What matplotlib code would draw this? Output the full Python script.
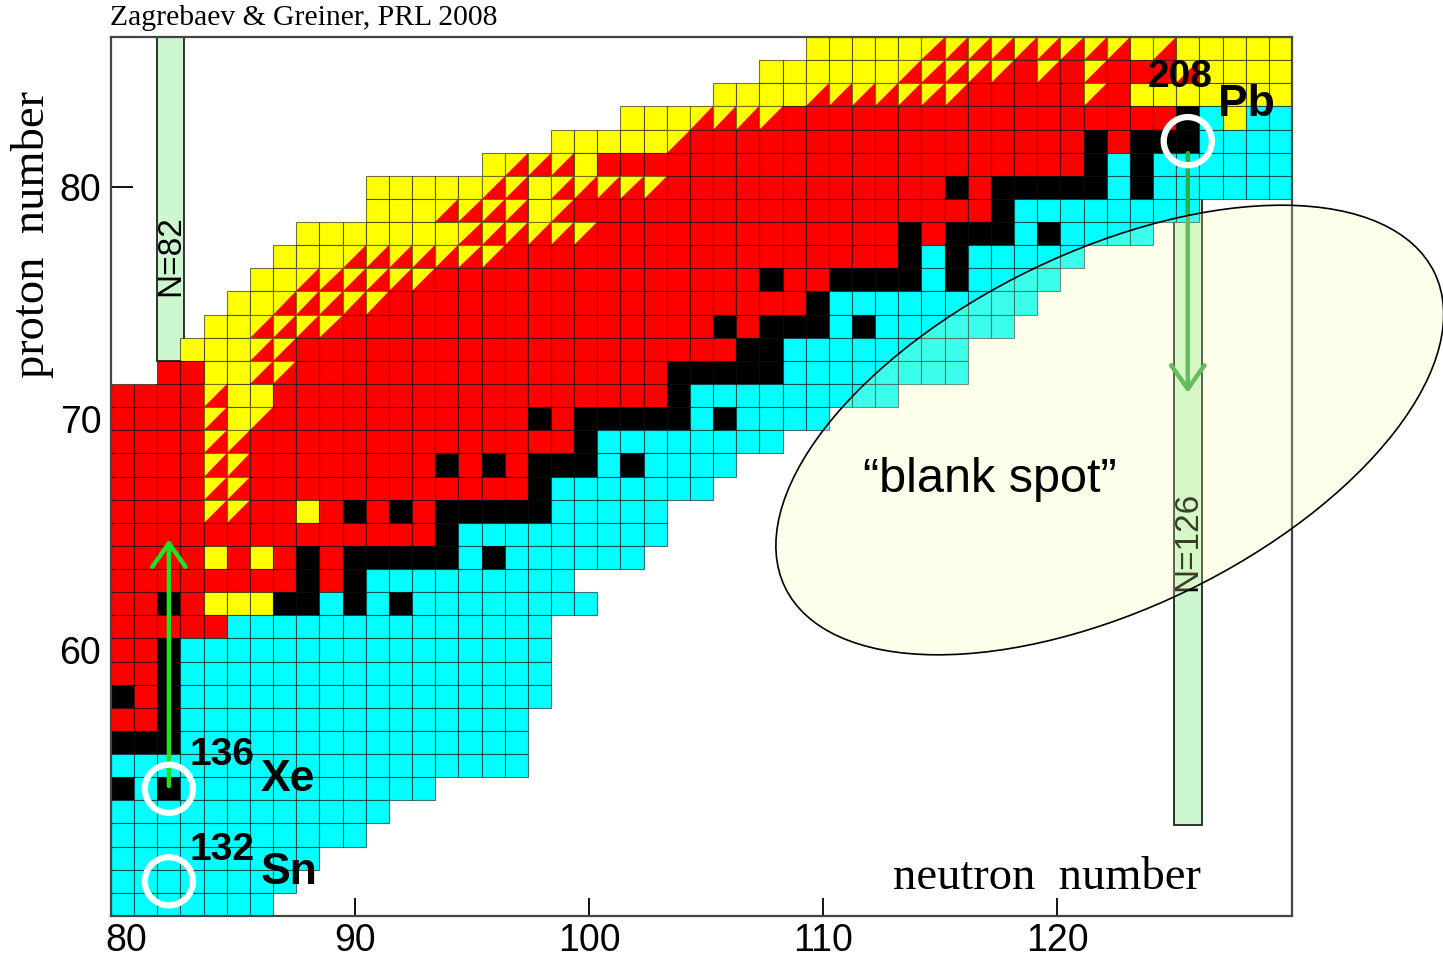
import matplotlib
matplotlib.use("Agg")
import matplotlib.pyplot as plt
from matplotlib.patches import Rectangle, Polygon, Ellipse, Circle

# one string per proton row, one letter per neutron number starting at first_neutron
# c = beta-minus, r = beta-plus / EC, y = alpha, t = alpha + beta-plus, k = stable
proton_numbers = [86, 85, 84, 83, 82, 81, 80, 79, 78, 77, 76, 75, 74, 73, 72, 71, 70, 69,
                  68, 67, 66, 65, 64, 63, 62, 61, 60, 59, 58, 57, 56, 55, 54, 53, 52, 51, 50, 49]
first_neutron = [110, 108, 106, 102, 99, 96, 91, 91, 88, 87, 86, 85, 84, 83, 82, 80, 80, 80,
                 80, 80, 80, 80, 80, 80, 80, 80, 80, 80, 80, 80, 80, 80, 80, 80, 80, 80, 80, 80]
cell_codes = [
    "yyyyy" "ttttttttt" "y" "t" "yyyyy",
    "yyyyyy" "ttttt" "r" "t" "r" "t" "rrr" "t" "yyyy",
    "yyyy" "ttttttt" "rrrrr" "t" "r" "yyyyyyy",
    "yyy" "tttt" "rrrrrrrrrrrrrrrrr" "k" "c" "y" "cc",
    "yyyyy" "t" "rrrrrrrrrrrrrrrrr" "k" "r" "kkk" "cccc",
    "y" "ttt" "y" "rrrrrrrrrrrrrrrrrrrrr" "k" "c" "k" "cccccc",
    "yyyyy" "tt" "y" "t" "t" "ttt" "rrrrrrrrrrrr" "k" "r" "kkkkk" "c" "k" "cccccc",
    "yyy" "tttt" "y" "t" "rrrrrrrrrrrrrrrrrr" "k" "cccccccc",
    "yyyyyyy" "tttttt" "rrrrrrrrrrrrr" "k" "r" "kkk" "c" "k" "cccc",
    "yyy" "ttttttt" "rrrrrrrrrrrrrrrrr" "k" "c" "k" "ccccc",
    "yy" "tttttt" "rrrrrrrrrrrrrr" "k" "rr" "kkkk" "c" "k" "cccc",
    "yy" "ttttt" "rrrrrrrrrrrrrrrrrr" "k" "ccccccccc",
    "yy" "tttt" "rrrrrrrrrrrrrrrr" "k" "r" "kkk" "c" "k" "cccccc",
    "yyy" "tt" "rrrrrrrrrrrrrrrrrrr" "kk" "cccccccc",
    "rr" "yy" "tt" "rrrrrrrrrrrrrrrr" "kkkkk" "cccccccc",
    "rrrr" "t" "yy" "rrrrrrrrrrrrrrrrr" "k" "ccccccccc",
    "rrrr" "t" "y" "t" "rrrrrrrrrrr" "k" "r" "kkkkk" "c" "k" "cccc",
    "rrrr" "tt" "rrrrrrrrrrrrrr" "k" "cccccccc",
    "rrrr" "tt" "rrrrrrrr" "k" "r" "k" "r" "kkk" "c" "k" "cccc",
    "rrrr" "tt" "rrrrrrrrrrrr" "k" "ccccccc",
    "rrrr" "tt" "rr" "y" "r" "k" "r" "k" "r" "kkkkk" "ccccc",
    "rrrrrrrrrrrrrr" "k" "ccccccccc",
    "rrrr" "y" "r" "y" "r" "k" "r" "kkkkk" "c" "k" "cccccc",
    "rrrrrrrr" "k" "r" "k" "ccccccccc",
    "rr" "k" "r" "yyy" "kk" "c" "k" "c" "k" "cccccccc",
    "rrrrr" "cccccccccccccc",
    "rr" "k" "cccccccccccccccc",
    "rr" "k" "cccccccccccccccc",
    "k" "r" "k" "cccccccccccccccc",
    "rr" "k" "ccccccccccccccc",
    "kkk" "ccccccccccccccc",
    "cccccccccccccccccc",
    "k" "c" "k" "ccccccccccc",
    "cccccccccccc",
    "ccccccccccc",
    "ccccccccc",
    "cccccccc",
    "ccccccc",
]
colors = {"c": "#00ffff", "r": "#ff0000", "y": "#ffff00", "k": "#000000"}

# the tick marks of the original sit slightly off the cell centres
x_tick_pos = [80.15, 90.05, 100.15, 110.25, 120.35]
x_tick_labels = ["80", "90", "100", "110", "120"]
y_ticks = [60, 70, 80]

plt.rcParams["font.family"] = ["Liberation Sans", "DejaVu Sans"]

fig = plt.figure(figsize=(14.43, 9.63), dpi=100)
ax = fig.add_axes([111 / 1443, 47 / 963, 1181 / 1443, 879 / 963])
ax.set_xlim(79.5, 130.5)
ax.set_ylim(48.5, 86.5)
ax.set_axisbelow(True)

edge = (0, 0, 0, 0.55)
for z, n0, codes in zip(proton_numbers, first_neutron, cell_codes):
    for i, code in enumerate(codes):
        n = n0 + i
        if code == "t":
            ax.add_patch(Rectangle((n - 0.5, z - 0.5), 1, 1, fc=colors["r"], ec="none", zorder=2))
            ax.add_patch(Polygon([(n - 0.5, z - 0.5), (n - 0.5, z + 0.5), (n + 0.5, z + 0.5)],
                                 fc=colors["y"], ec="none", zorder=2))
            ax.add_patch(Rectangle((n - 0.5, z - 0.5), 1, 1, fc="none", ec=edge, lw=0.8, zorder=2))
        else:
            ax.add_patch(Rectangle((n - 0.5, z - 0.5), 1, 1, fc=colors[code], ec=edge, lw=0.8, zorder=2))

# magic number bars
ax.add_patch(Rectangle((81.48, 72.5), 1.18, 14.0, fc="#ccf7cf", ec="#222222", lw=1.3, zorder=1))
ax.add_patch(Rectangle((125.42, 52.43), 1.18, 27.5, fc="#ccf7cf", ec="#222222", lw=1.3, zorder=1))
ax.text(82.08, 77.05, "N=82", rotation=90, ha="center", va="center", fontsize=24, zorder=3)
ax.text(126.0, 64.7, "N=126", rotation=90, ha="center", va="center", fontsize=24, zorder=6)

# arrows
head = "->,head_length=1.7,head_width=1.2"
ax.annotate("", xy=(82, 64.9), xytext=(82, 54.0),
            arrowprops=dict(arrowstyle=head, color="#22e022", lw=3.2), zorder=4)
ax.annotate("", xy=(126, 71.0), xytext=(126, 81.6),
            arrowprops=dict(arrowstyle=head, color="#33aa44", lw=3.2), zorder=4)

# circles on 136Xe, 132Sn, 208Pb
for cn, cz in [(82, 54), (82, 50), (126, 82)]:
    ax.add_patch(Circle((cn, cz), 1.04, fc="none", ec="white", lw=4.5, zorder=5))

ax.text(82.9, 55.45, "136", fontsize=28, fontweight="bold", ha="left", va="center", zorder=7)
ax.text(85.95, 54.4, "Xe", fontsize=32, fontweight="bold", ha="left", va="center", zorder=7)
ax.text(82.9, 51.35, "132", fontsize=28, fontweight="bold", ha="left", va="center", zorder=7)
ax.text(85.95, 50.4, "Sn", fontsize=32, fontweight="bold", ha="left", va="center", zorder=7)
ax.text(124.25, 84.75, "208", fontsize=28, fontweight="bold", ha="left", va="center", zorder=7)
ax.text(127.3, 83.6, "Pb", fontsize=32, fontweight="bold", ha="left", va="center", zorder=7)

# the blank spot
ax.add_patch(Ellipse((122.63, 69.51), 31.17, 15.42, angle=25.9, fc=(0.98, 1.0, 0.67, 0.24),
                     ec="black", lw=1.2, zorder=6, clip_on=False))
ax.text(117.45, 67.35, "\u201cblank spot\u201d", fontsize=35, ha="center", va="center", zorder=7)

ax.text(119.9, 50.15, "neutron  number", fontsize=33.5, family="Liberation Serif",
        ha="center", va="center", zorder=7)
fig.text(33 / 1443, 1 - 235 / 963, "proton  number", fontsize=33.5, family="Liberation Serif",
         rotation=90, ha="center", va="center")
fig.text(110 / 1443, 1 - 18 / 963, "Zagrebaev & Greiner, PRL 2008", fontsize=21.3,
         family="Liberation Serif", ha="left", va="center")

ax.set_xticks(x_tick_pos)
ax.set_xticklabels(x_tick_labels)
ax.set_yticks(y_ticks)
ax.tick_params(axis="x", direction="in", length=13, width=1.3, labelsize=27, pad=5)
ax.tick_params(axis="y", direction="in", length=16, width=1.3, labelsize=27, pad=7)
for sp in ax.spines.values():
    sp.set_linewidth(1.6)
    sp.set_color("#444444")

fig.savefig("out.png", dpi=100)
